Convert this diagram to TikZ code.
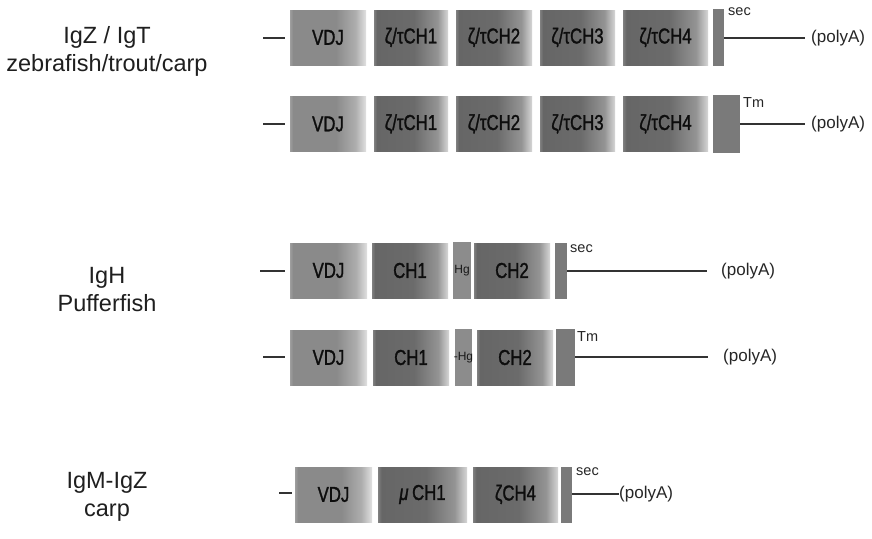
\documentclass[tikz,border=0pt]{standalone}
\usepackage{fontspec}
\setmainfont{Liberation Sans}
\newfontfamily\boxfont[FakeStretch=0.78, FakeBold=1.3]{Liberation Sans}

% domain shadings: the path spans 25bp..75bp of each shading
\pgfdeclarehorizontalshading{vdjshade}{100bp}{%
  color(0bp)=(black!38); color(25bp)=(black!38); color(27bp)=(black!46);
  color(55bp)=(black!46); color(68bp)=(black!32); color(75bp)=(black!12);
  color(100bp)=(black!12)}
\pgfdeclarehorizontalshading{chshade}{100bp}{%
  color(0bp)=(black!50); color(25bp)=(black!50); color(27bp)=(black!60);
  color(52bp)=(black!58); color(68bp)=(black!42); color(75bp)=(black!16);
  color(100bp)=(black!16)}

\tikzset{
  dom/.style={draw=none, inner sep=0pt, minimum height=55pt,
    font=\boxfont\fontsize{21.5}{21.5}\selectfont, text=black!95},
  vdj/.style={dom, shading=vdjshade},
  chd/.style={dom, shading=chshade},
  hinge/.style={draw=none, fill=black!45, inner sep=0pt, minimum width=18pt, minimum height=57pt},
  bar/.style={draw=none, fill=black!52, inner sep=0pt, minimum height=57pt},
  wire/.style={draw=black!80, line width=1.8pt},
  tag/.style={anchor=west, inner sep=0pt, font=\fontsize{14.5}{14.5}\selectfont, text=black!85},
  polya/.style={anchor=west, inner sep=0pt, font=\fontsize{17}{17}\selectfont, text=black!85},
  hg/.style={inner sep=0pt, font=\fontsize{12}{12}\selectfont, text=black!90},
  title/.style={align=center, font=\fontsize{23.5}{28}\selectfont, text=black!88},
}

\begin{document}
\begin{tikzpicture}[x=1pt,y=-1pt]
\useasboundingbox[fill=white] (0,0) rectangle (872,538);

% ---------- group titles ----------
\node[title] (tZ) at (107,51) {IgZ / IgT\\zebrafish/trout/carp};
\node[title] (tH) at (107,290) {IgH\\Pufferfish};
\node[title] (tM) at (107,497) {IgM-IgZ\\carp};

% ---------- IgZ / IgT, secreted ----------
\coordinate (a0) at (263,38); \coordinate (a0e) at (285,38);
\node[vdj, minimum width=76pt] (a1) at (328,37.5) {VDJ};
\node[chd, minimum width=74pt] (a2) at (411,37.5) {ζ/τCH1};
\node[chd, minimum width=76pt] (a3) at (494,37.5) {ζ/τCH2};
\node[chd, minimum width=75pt] (a4) at (577.5,37.5) {ζ/τCH3};
\node[chd, minimum width=85pt] (a5) at (665.5,37.5) {ζ/τCH4};
\node[bar, minimum width=11pt] (a6) at (718.5,37.5) {};
\node[tag] (a7) at (728,12) {sec};
\node[polya] (a8) at (811,38) {(polyA)};
\draw[wire] (a0) -- (a0e);
\draw[wire] (a6.east |- a8.west) -- ++(81,0) coordinate (a9);

% ---------- IgZ / IgT, membrane ----------
\coordinate (b0) at (263,124); \coordinate (b0e) at (285,124);
\node[vdj, minimum width=76pt] (b1) at (328,124) {VDJ};
\node[chd, minimum width=74pt] (b2) at (411,124) {ζ/τCH1};
\node[chd, minimum width=76pt] (b3) at (494,124) {ζ/τCH2};
\node[chd, minimum width=75pt] (b4) at (577.5,124) {ζ/τCH3};
\node[chd, minimum width=85pt] (b5) at (665.5,124) {ζ/τCH4};
\node[bar, minimum width=27pt, minimum height=58pt] (b6) at (726.5,124) {};
\node[tag] (b7) at (743,103) {Tm};
\node[polya] (b8) at (811,124) {(polyA)};
\draw[wire] (b0) -- (b0e);
\draw[wire] (b6.east |- b8.west) -- ++(65,0) coordinate (b9);

% ---------- IgH pufferfish, secreted ----------
\coordinate (c0) at (260,271); \coordinate (c0e) at (285,271);
\node[vdj, minimum width=77pt] (c1) at (328.5,270.5) {VDJ};
\node[chd, minimum width=76pt] (c2) at (410,270.5) {CH1};
\node[hinge] (c3) at (462,270.5) {};
\node[hg] at (c3) {Hg};
\node[chd, minimum width=76pt] (c4) at (512,270.5) {CH2};
\node[bar, minimum width=12pt, minimum height=56pt] (c5) at (561,271) {};
\node[tag] (c6) at (570,249) {sec};
\node[polya] (c7) at (721,271) {(polyA)};
\draw[wire] (c0) -- (c0e);
\draw[wire] (c5.east |- c7.west) -- ++(140,0) coordinate (c8);

% ---------- IgH pufferfish, membrane ----------
\coordinate (d0) at (263,357); \coordinate (d0e) at (285,357);
\node[vdj, minimum width=77pt] (d1) at (328.5,357.5) {VDJ};
\node[chd, minimum width=76pt] (d2) at (411,357.5) {CH1};
\node[hinge, minimum width=17pt] (d3) at (463.5,357.5) {};
\node[hg] at (d3) {-Hg};
\node[chd, minimum width=76pt] (d4) at (515,357.5) {CH2};
\node[bar, minimum width=19pt] (d5) at (565.5,357.5) {};
\node[tag] (d6) at (577,337) {Tm};
\node[polya] (d7) at (723,357) {(polyA)};
\draw[wire] (d0) -- (d0e);
\draw[wire] (d5.east |- d7.west) -- ++(133,0) coordinate (d8);

% ---------- IgM-IgZ carp ----------
\coordinate (e0) at (279,493); \coordinate (e0e) at (292,493);
\node[vdj, minimum width=77pt] (e1) at (333.5,494.5) {VDJ};
\node[chd, minimum width=89pt] (e2) at (422.5,494.5) {\textit{μ}\,CH1};
\node[chd, minimum width=85pt] (e3) at (515.5,494.5) {ζCH4};
\node[bar, minimum width=11pt, minimum height=56pt] (e4) at (566.5,495) {};
\node[tag] (e5) at (576,472) {sec};
\node[polya] (e6) at (619,494) {(polyA)};
\draw[wire] (e0) -- (e0e);
\draw[wire] (e4.east |- e6.west) -- (e6.west);
\end{tikzpicture}
\end{document}
